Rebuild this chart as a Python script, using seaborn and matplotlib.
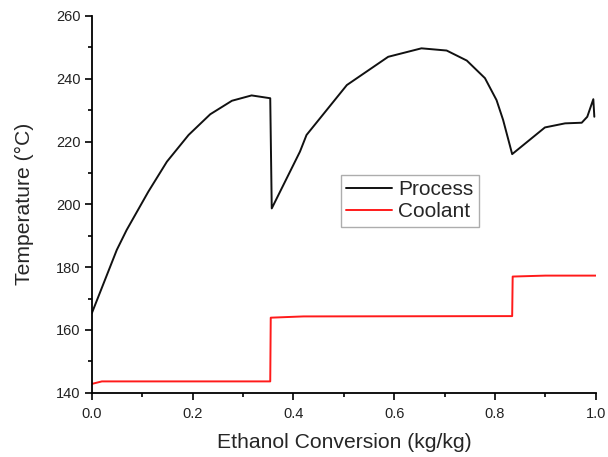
import matplotlib
matplotlib.use("Agg")
import matplotlib.pyplot as plt
import seaborn as sns
import pandas as pd
from matplotlib.ticker import MultipleLocator

# Process temperature profile
process_x = [0.0, 0.0496, 0.069, 0.112, 0.149, 0.192, 0.235, 0.278, 0.317, 0.354,
             0.357, 0.413, 0.426, 0.506, 0.588, 0.654, 0.704, 0.744, 0.780, 0.803,
             0.816, 0.834, 0.899, 0.939, 0.972, 0.983, 0.995, 0.997]
process_y = [165.3, 185.5, 191.8, 204.0, 213.6, 222.1, 228.7, 233.0, 234.7, 233.8,
             198.7, 216.8, 222.1, 238.0, 247.0, 249.7, 249.0, 245.8, 240.2, 233.2,
             226.9, 216.0, 224.5, 225.8, 226.0, 227.9, 233.5, 227.9]

# Coolant temperature profile
coolant_x = [0.0, 0.02, 0.354, 0.355, 0.42, 0.834, 0.835, 0.9, 1.0]
coolant_y = [142.8, 143.6, 143.6, 163.9, 164.3, 164.4, 177.0, 177.3, 177.3]

sns.set_style("ticks")
plt.rcParams['font.family'] = ['Liberation Sans', 'DejaVu Sans']

fig = plt.figure(figsize=(6.08, 4.57), dpi=100)
ax = fig.add_axes([0.151, 0.1407, 0.829, 0.8243])

dp = pd.DataFrame({"x": process_x, "y": process_y})
dc = pd.DataFrame({"x": coolant_x, "y": coolant_y})
sns.lineplot(data=dp, x="x", y="y", ax=ax, color="#111111", lw=1.4, label="Process",
             sort=False, estimator=None)
sns.lineplot(data=dc, x="x", y="y", ax=ax, color="#ff1a1a", lw=1.4, label="Coolant",
             sort=False, estimator=None)

ax.set_xlim(0, 1.0)
ax.set_ylim(140, 260)
ax.xaxis.set_major_locator(MultipleLocator(0.2))
ax.xaxis.set_minor_locator(MultipleLocator(0.1))
ax.yaxis.set_major_locator(MultipleLocator(20))
ax.yaxis.set_minor_locator(MultipleLocator(10))
ax.set_xticklabels([f"{v:.1f}" for v in ax.get_xticks()])
for s in ["top", "right"]:
    ax.spines[s].set_visible(False)
for s in ["left", "bottom"]:
    ax.spines[s].set_linewidth(1.3)
    ax.spines[s].set_color("black")
ax.tick_params(which="major", direction="out", length=5, width=1.2, labelsize=10.5,
               colors="black", labelcolor="#222222")
ax.tick_params(axis="x", which="major", pad=5)
ax.tick_params(axis="y", which="major", pad=3)
ax.tick_params(which="minor", direction="out", length=3, width=1.2, colors="black")

ax.set_xlabel("Ethanol Conversion (kg/kg)", fontsize=15.2, labelpad=9)
ax.set_ylabel("Temperature (°C)", fontsize=15.2, labelpad=16)

leg = ax.legend(loc="upper left", bbox_to_anchor=(0.494, 0.578), borderaxespad=0,
                fontsize=15, frameon=True, fancybox=False, handlelength=2.2,
                handletextpad=0.3, borderpad=0.25, labelspacing=0.15)
leg.get_frame().set_edgecolor("#999999")
leg.get_frame().set_linewidth(1.0)

fig.savefig("out.png", dpi=100)
